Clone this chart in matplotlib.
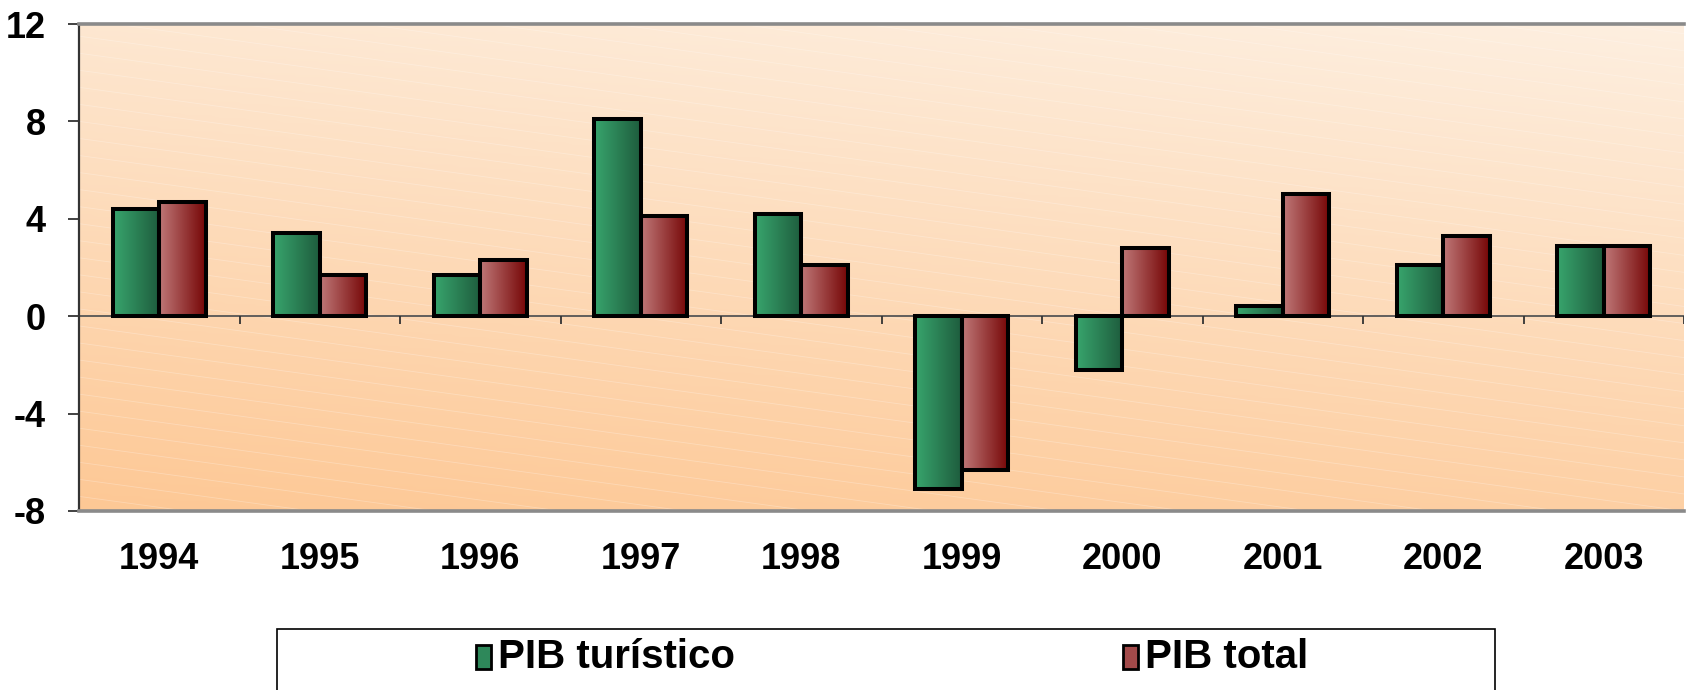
import numpy as np
import matplotlib
matplotlib.use("Agg")
import matplotlib.pyplot as plt
from matplotlib.colors import LinearSegmentedColormap
from matplotlib.patches import Rectangle

# Variación anual (%)
years = ["1994", "1995", "1996", "1997", "1998", "1999", "2000", "2001", "2002", "2003"]
pib_turistico = [4.4, 3.4, 1.7, 8.1, 4.2, -7.1, -2.2, 0.4, 2.1, 2.9]
pib_total = [4.7, 1.7, 2.3, 4.1, 2.1, -6.3, 2.8, 5.0, 3.3, 2.9]
series_labels = ["PIB turístico", "PIB total"]

plt.rcParams['font.family'] = ['Liberation Sans', 'DejaVu Sans']
plt.rcParams['font.weight'] = 'bold'

green_cmap = LinearSegmentedColormap.from_list("g", ["#38A56D", "#1E5C3D"])
red_cmap = LinearSegmentedColormap.from_list("r", ["#BF7878", "#760606"])

fig = plt.figure(figsize=(16.86, 6.9), dpi=100)
ax = fig.add_axes([79 / 1686, 1 - 511 / 690, 1605 / 1686, 487 / 690])
ax.set_xlim(-0.5, 9.5)
ax.set_ylim(-8, 12)

# background gradient (dark orange bottom-left -> pale peach top-right)
gx, gy = np.meshgrid(np.linspace(0, 1, 200), np.linspace(0, 1, 200))
t = 0.8 * gy + 0.2 * gx
bg_cmap = LinearSegmentedColormap.from_list("bg", ["#FDC895", "#FEEFE0"])
ax.imshow(t, cmap=bg_cmap, extent=(0, 1, 0, 1), origin="lower",
          transform=ax.transAxes, aspect="auto", zorder=0)
# faint diagonal stripes
for s in np.arange(-0.6, 1.6, 0.035):
    ax.plot([0, 1], [s, s - 0.45], transform=ax.transAxes, color="white",
            lw=0.6, alpha=0.25, zorder=0.5, clip_on=True)

x = np.arange(len(years))
w = 0.29
grad = np.linspace(0, 1, 100).reshape(1, -1)


def gradient_bars(xpos, values, cmap):
    bars = ax.bar(xpos, values, width=w, facecolor="none", edgecolor="black",
                  linewidth=2.9, zorder=3)
    for b in bars:
        x0, y0 = b.get_x(), b.get_y()
        x1, y1 = x0 + b.get_width(), y0 + b.get_height()
        im = ax.imshow(grad, cmap=cmap, extent=(x0, x1, min(y0, y1), max(y0, y1)),
                       aspect="auto", zorder=2)
        im.set_clip_path(b)
    return bars


gradient_bars(x - w / 2, pib_turistico, green_cmap)
gradient_bars(x + w / 2, pib_total, red_cmap)

# zero line with category boundary ticks
ax.axhline(0, color="#555555", lw=1.3, zorder=1)
ax.vlines(np.arange(0.5, 10, 1), -0.32, 0, color="#333333", lw=1.3, zorder=1)

# spines
for side in ["top", "bottom"]:
    ax.spines[side].set_color("#8A8A8A")
    ax.spines[side].set_linewidth(2.6)
ax.spines["left"].set_color("#333333")
ax.spines["left"].set_linewidth(1.6)
ax.spines["right"].set_visible(False)

ax.set_yticks([-8, -4, 0, 4, 8, 12])
ax.set_yticklabels(["-8", "-4", "0", "4", "8", "12"], fontsize=26, fontweight="bold")
ax.tick_params(axis="y", direction="out", length=8, width=1.3, color="#333333", pad=16)
ax.set_xticks(x)
ax.set_xticklabels(years, fontsize=26, fontweight="bold")
ax.tick_params(axis="x", length=0, pad=22)

# legend box
fig.patches.append(Rectangle((277 / 1686, -0.02), (1495 - 277) / 1686, 0.02 + 1 - 629 / 690,
                             transform=fig.transFigure, facecolor="white",
                             edgecolor="black", linewidth=1.2))
legend_y = 1 - 657 / 690
for mx, label, cmap in [(476, series_labels[0], green_cmap), (1123, series_labels[1], red_cmap)]:
    fig.patches.append(Rectangle((mx / 1686, legend_y - 12 / 690), 15 / 1686, 24 / 690,
                                 transform=fig.transFigure, facecolor=cmap(0.4),
                                 edgecolor="black", linewidth=2))
    fig.text((mx + 22) / 1686, legend_y, label, fontsize=29, fontweight="bold",
             va="center", ha="left")

fig.savefig("out.png", dpi=100)
